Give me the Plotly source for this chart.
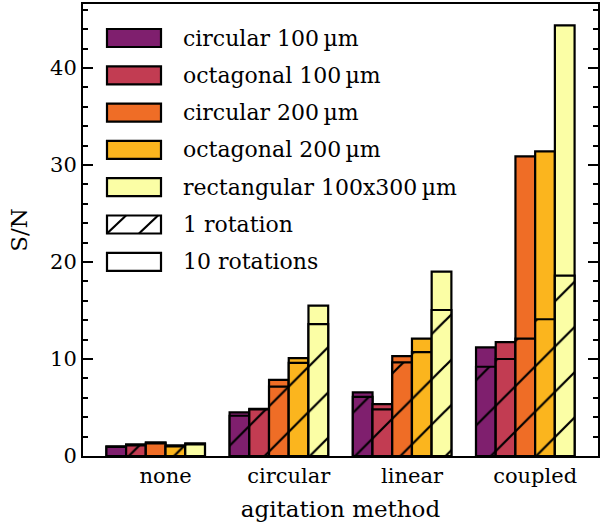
import plotly.graph_objects as go

groups = ["none", "circular", "linear", "coupled"]
series = ["circular 100\u2009\u00b5m", "octagonal 100\u2009\u00b5m", "circular 200\u2009\u00b5m",
          "octagonal 200\u2009\u00b5m", "rectangular 100x300\u2009\u00b5m"]
colors = ["#7f1f6e", "#c23c52", "#ef6d26", "#fbb51e", "#fbfea5"]

ten_rotations = [
    [1.0, 4.5, 6.55, 11.2],
    [1.2, 4.85, 5.35, 11.75],
    [1.4, 7.85, 10.3, 30.9],
    [1.1, 10.1, 12.1, 31.4],
    [1.3, 15.5, 19.0, 44.4],
]
one_rotation = [
    [0.95, 4.15, 6.1, 9.2],
    [1.1, 4.8, 4.8, 10.0],
    [1.3, 7.15, 9.65, 12.1],
    [1.0, 9.6, 10.7, 14.1],
    [1.2, 13.6, 15.05, 18.6],
]

W = 0.16
FONT = "DejaVu Serif"

fig = go.Figure()
for k in range(5):
    xs = [i + (k - 2) * W for i in range(len(groups))]
    fig.add_trace(go.Bar(
        x=xs, y=ten_rotations[k], width=W, showlegend=False,
        marker=dict(color=colors[k], line=dict(color="black", width=2.2)),
    ))
    fig.add_trace(go.Bar(
        x=xs, y=one_rotation[k], width=W, showlegend=False,
        marker=dict(color=colors[k], line=dict(color="black", width=2.2),
                    pattern=dict(shape="/", fgcolor="black", bgcolor=colors[k],
                                 size=32, solidity=0.07, fillmode="replace")),
    ))

# plot area in pixels
L, R, T, B = 83, 598, 4, 456
def px(x):
    return (x - L) / (R - L)
def py(y):
    return (B - y) / (B - T)

shapes = []
annotations = []
legend_labels = series + ["1 rotation", "10 rotations"]
legend_fill = colors + ["white", "white"]
x0, x1 = 107, 161
for j, lab in enumerate(legend_labels):
    yc = 38 + 37.3 * j
    shapes.append(dict(type="rect", xref="paper", yref="paper",
                       x0=px(x0), x1=px(x1), y0=py(yc + 9), y1=py(yc - 9),
                       fillcolor=legend_fill[j], line=dict(color="black", width=2.2), layer="above"))
    if lab == "1 rotation":
        for sx in (x0, x0 + 32):
            shapes.append(dict(type="line", xref="paper", yref="paper",
                               x0=px(sx), y0=py(yc + 9), x1=px(min(sx + 19, x1)),
                               y1=py(yc + 9 - 18 * min(19, x1 - sx) / 19),
                               line=dict(color="black", width=2.2), layer="above"))
    annotations.append(dict(xref="paper", yref="paper", x=px(181), y=py(yc),
                            xanchor="left", yanchor="middle", text=lab, showarrow=False,
                            font=dict(family=FONT, size=22, color="black")))

fig.update_layout(
    width=605, height=522, barmode="overlay",
    margin=dict(l=L, r=605 - R, t=T, b=522 - B),
    plot_bgcolor="white", paper_bgcolor="white",
    font=dict(family=FONT, size=21, color="black"),
    shapes=shapes, annotations=annotations,
    xaxis=dict(range=[-0.59, 3.59], tickvals=[i + W / 2 for i in range(len(groups))],
               ticktext=groups, ticks="", showline=True, mirror=True, linecolor="black",
               linewidth=2, showgrid=False, zeroline=False, tickfont=dict(size=21),
               automargin=False,
               title=dict(text="agitation method", standoff=16, font=dict(size=23))),
    yaxis=dict(range=[0, 46.6], dtick=10, ticks="inside", ticklen=10, tickwidth=2,
               tickcolor="black", showline=True, mirror="allticks", linecolor="black",
               linewidth=2, showgrid=False, zeroline=False, tickfont=dict(size=21),
               automargin=False,
               minor=dict(ticks="inside", dtick=2, ticklen=5, tickwidth=2, tickcolor="black"),
               title=dict(text="S/N", standoff=16, font=dict(size=23))),
)

fig.write_html("out.html")
